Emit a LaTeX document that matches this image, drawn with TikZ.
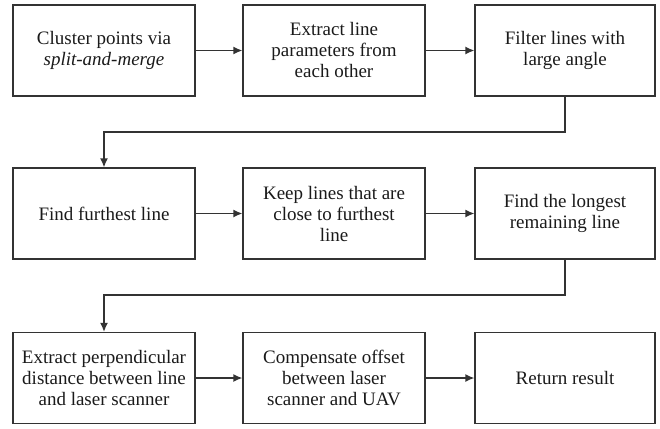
\documentclass[tikz,border=0pt]{standalone}
\usepackage{fontspec}
\setmainfont{Liberation Serif}
\usetikzlibrary{arrows.meta}
\definecolor{linec}{HTML}{333333}
\definecolor{textc}{HTML}{1A1A1A}
\begin{document}
\begin{tikzpicture}[x=1pt,y=-1pt,
  box/.style={draw=linec, line width=1.3pt, minimum width=182pt, minimum height=91pt,
    inner sep=2pt, align=center, text=textc,
    font=\fontsize{19}{21}\selectfont},
  flow/.style={draw=linec, line width=1.3pt, -{Latex[length=9pt,width=8pt]}}]
\useasboundingbox (0,0) rectangle (660,428);
\node[box] (a) at (104,50.5) {Cluster points via\\\textit{split-and-merge}};
\node[box] (b) at (334,50.5) {Extract line\\parameters from\\each other};
\node[box, minimum width=180pt] (c) at (565,50.5) {Filter lines with\\large angle};
\node[box] (d) at (104,213.5) {Find furthest line};
\node[box] (e) at (334,213.5) {Keep lines that are\\close to furthest\\line};
\node[box, minimum width=180pt] (f) at (565,213.5) {Find the longest\\remaining line};
\node[box] (g) at (104,378) {Extract perpendicular\\distance between line\\and laser scanner};
\node[box] (h) at (334,378) {Compensate offset\\between laser\\scanner and UAV};
\node[box, minimum width=180pt] (i) at (565,378) {Return result};
\coordinate (k1) at (565,132);
\coordinate (k2) at (104,132);
\coordinate (k3) at (565,295);
\coordinate (k4) at (104,295);
\draw[flow] (a) -- (b);
\draw[flow] (b) -- (c);
\draw[flow] (c.south) -- (k1) -- (k2) -- (d.north);
\draw[flow] (d) -- (e);
\draw[flow] (e) -- (f);
\draw[flow] (f.south) -- (k3) -- (k4) -- (g.north);
\draw[flow] (g) -- (h);
\draw[flow] (h) -- (i);
\end{tikzpicture}
\end{document}
